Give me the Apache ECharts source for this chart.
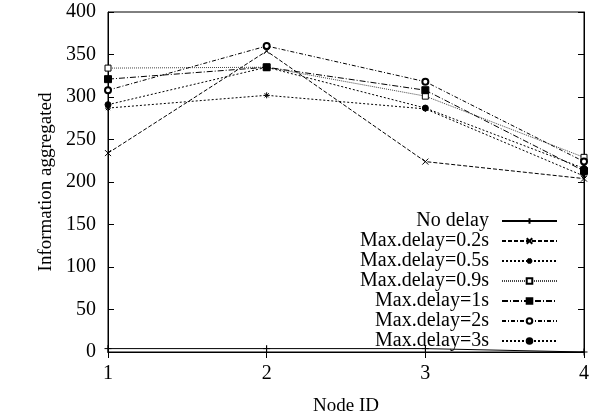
<!DOCTYPE html>
<html lang="en">
<head>
    <meta charset="UTF-8">
    <title>Information aggregated</title>
    <script src="https://cdn.jsdelivr.net/npm/echarts@6/dist/echarts.min.js"></script>
</head>
<body style="margin:0;">
<div id="main" style="height: 419px;width:595px;"></div>
<script>

var nodes = [1, 2, 3, 4];  // Node ID
var noDelay = [4, 4, 4, 0];
var delay02 = [234, 354, 224, 204];
var delay05 = [287, 302, 286, 207];
var delay09 = [334, 335, 301, 229];
var delay1 = [321, 335, 308, 213];
var delay2 = [308, 360, 318, 224];
var delay3 = [291, 335, 287, 216];
var names = ['No delay', 'Max.delay=0.2s', 'Max.delay=0.5s', 'Max.delay=0.9s',
             'Max.delay=1s', 'Max.delay=2s', 'Max.delay=3s'];

var font = 'Liberation Serif';

function pairs(vals) {
    var out = [];
    for (var i = 0; i < nodes.length; i++) {
        out.push([nodes[i], vals[i]]);
    }
    return out;
}

// symbols drawn as strokes
var plusSym = 'path://M0,5L10,5M5,0L5,10';
var crossSym = 'path://M0,0L10,10M0,10L10,0';
var starSym = 'path://M0,5L10,5M5,0L5,10M1.5,1.5L8.5,8.5M1.5,8.5L8.5,1.5';

function mk(name, vals, dash, symbol, size, fill, color) {
    return {
        name: name,
        type: 'line',
        data: pairs(vals),
        symbol: symbol,
        symbolSize: size,
        showAllSymbol: true,
        lineStyle: {color: color || '#000', width: 1, type: dash},
        itemStyle: {color: fill, borderColor: '#000', borderWidth: 1},
        emphasis: {disabled: true},
        animation: false
    };
}

var myChart = echarts.init(document.getElementById('main'));

var option = {
    textStyle: {fontFamily: font},
    legend: {
        data: names,
        orient: 'vertical',
        right: 37,
        bottom: 68,
        align: 'right',
        itemWidth: 55,
        itemHeight: 7,
        itemGap: 0,
        padding: 0,
        textStyle: {fontFamily: font, fontSize: 20, color: '#000', padding: [0, 8, 0, 0]}
    },
    grid: {
        left: 108,
        right: 11,
        top: 12,
        bottom: 67,
        outerBoundsMode: 'none',
        show: true,
        borderColor: '#000',
        borderWidth: 1
    },
    xAxis: [
        {
            type: 'value', min: 1, max: 4, interval: 1,
            name: 'Node ID', nameLocation: 'middle', nameGap: 45,
            nameTextStyle: {fontFamily: font, fontSize: 19, color: '#000'},
            axisLine: {lineStyle: {color: '#000'}},
            axisTick: {inside: true, length: 6, lineStyle: {color: '#000'}},
            axisLabel: {fontFamily: font, fontSize: 20, color: '#000', margin: 12},
            splitLine: {show: false}
        },
        {
            type: 'value', min: 1, max: 4, interval: 1, position: 'top',
            axisLine: {lineStyle: {color: '#000'}},
            axisTick: {inside: true, length: 6, lineStyle: {color: '#000'}},
            axisLabel: {show: false},
            splitLine: {show: false}
        }
    ],
    yAxis: [
        {
            type: 'value', min: 0, max: 400, interval: 50,
            name: 'Information aggregated', nameLocation: 'middle', nameGap: 52,
            nameTextStyle: {fontFamily: font, fontSize: 19, color: '#000'},
            axisLine: {show: true, lineStyle: {color: '#000'}},
            axisTick: {show: true, inside: true, length: 6, lineStyle: {color: '#000'}},
            axisLabel: {fontFamily: font, fontSize: 20, color: '#000', margin: 12},
            splitLine: {show: false}
        },
        {
            type: 'value', min: 0, max: 400, interval: 50, position: 'right',
            axisLine: {show: true, lineStyle: {color: '#000'}},
            axisTick: {show: true, inside: true, length: 6, lineStyle: {color: '#000'}},
            axisLabel: {show: false},
            splitLine: {show: false}
        }
    ],
    series: [
        mk(names[0], noDelay, 'solid', plusSym, 7, '#000'),
        mk(names[1], delay02, [4, 2], crossSym, 6, '#000'),
        mk(names[2], delay05, [2, 2], starSym, 6, '#000'),
        mk(names[3], delay09, [1, 1], 'rect', 6, '#fff', '#444'),
        mk(names[4], delay1, [6, 2, 1, 2], 'rect', 7, '#000'),
        mk(names[5], delay2, [4, 2, 1, 2], 'emptyCircle', 6, '#000'),
        mk(names[6], delay3, [2, 2], 'circle', 6, '#000')
    ]
};

myChart.setOption(option);
</script>
</body>
</html>
